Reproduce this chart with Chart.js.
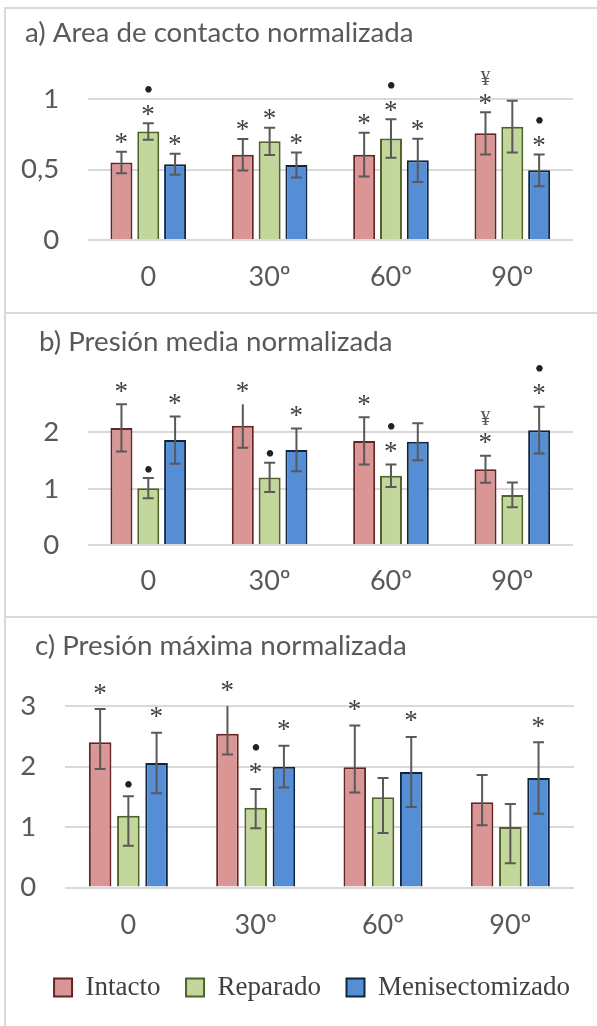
<!DOCTYPE html>
<html>
<head>
<meta charset="utf-8">
<script src="https://cdn.jsdelivr.net/npm/chart.js@4.4.1/dist/chart.umd.min.js"></script>
<style>
  html, body { margin: 0; padding: 0; background: #fff; overflow: hidden; }
  body { width: 597px; height: 1026px; position: relative; }
  .panel { position: absolute; left: 4px; width: 600px; border-top: 2px solid #d9d9d9; border-left: 2px solid #d9d9d9; }
  .panel canvas { display: block; }
</style>
</head>
<body>
<div class="panel" style="top:7px"><canvas id="chartA" width="591" height="303"></canvas></div>
<div class="panel" style="top:312px"><canvas id="chartB" width="591" height="302"></canvas></div>
<div class="panel" style="top:616px"><canvas id="chartC" width="591" height="408"></canvas></div>
<script>
const categories = ['0', '30º', '60º', '90º'];
const seriesNames = ['Intacto', 'Reparado', 'Menisectomizado'];

// a) area de contacto (error simetrico)
const areaIntacto = [0.55, 0.605, 0.605, 0.757];
const areaReparado = [0.77, 0.70, 0.72, 0.804];
const areaMenisect = [0.537, 0.532, 0.565, 0.494];
const areaIntactoErr = [0.076, 0.112, 0.155, 0.15];
const areaReparadoErr = [0.058, 0.097, 0.137, 0.184];
const areaMenisectErr = [0.074, 0.088, 0.153, 0.112];
const areaIntactoMarks = ['*', '*', '*', '*¥'];
const areaReparadoMarks = ['*•', '*', '*•', ''];
const areaMenisectMarks = ['*', '*', '*', '*•'];

// b) presion media
const mediaIntacto = [2.08, 2.12, 1.85, 1.345];
const mediaReparado = [1.01, 1.20, 1.23, 0.89];
const mediaMenisect = [1.865, 1.69, 1.835, 2.04];
const mediaIntactoErr = [0.42, 0.39, 0.42, 0.24];
const mediaReparadoErr = [0.18, 0.26, 0.20, 0.22];
const mediaMenisectErr = [0.42, 0.38, 0.33, 0.415];
const mediaIntactoMarks = ['*', '*', '*', '*¥'];
const mediaReparadoMarks = ['•', '•', '*•', ''];
const mediaMenisectMarks = ['*', '*', '', '*•'];

// c) presion maxima (error asimetrico)
const maxIntacto = [2.40, 2.54, 1.99, 1.41];
const maxReparado = [1.185, 1.32, 1.49, 1.0];
const maxMenisect = [2.06, 1.995, 1.91, 1.81];
const maxIntactoUp = [0.55, 0.55, 0.69, 0.45];
const maxIntactoDown = [0.44, 0.34, 0.42, 0.38];
const maxReparadoUp = [0.325, 0.31, 0.32, 0.38];
const maxReparadoDown = [0.495, 0.34, 0.59, 0.60];
const maxMenisectUp = [0.50, 0.35, 0.58, 0.59];
const maxMenisectDown = [0.50, 0.34, 0.58, 0.59];
const maxIntactoMarks = ['*', '*', '*', ''];
const maxReparadoMarks = ['•', '*•', '', ''];
const maxMenisectMarks = ['*', '*', '*', '*'];

const fills = ['#d99694', '#c3d69b', '#558ed5'];
const borders = ['#632523', '#4f6228', '#10253f'];
const GRID = '#d9d9d9';
const TEXT = '#595959';

Chart.defaults.font.family = 'Lato';

const markFonts = { '*': '27px "Liberation Serif"', '•': '27px "Liberation Serif"', '¥': '20px "Liberation Serif"' };
const markColors = { '*': '#404040', '•': '#222222', '¥': '#595959' };

function drawMark(ctx, ch, cx, cy) {
  ctx.font = markFonts[ch];
  ctx.fillStyle = markColors[ch];
  ctx.textAlign = 'left';
  ctx.textBaseline = 'alphabetic';
  const m = ctx.measureText(ch);
  const x = cx - (m.actualBoundingBoxRight - m.actualBoundingBoxLeft) / 2;
  const y = cy + (m.actualBoundingBoxAscent - m.actualBoundingBoxDescent) / 2;
  ctx.fillText(ch, x, y);
}

// barras de error + simbolos de significancia
const errorBars = {
  id: 'errorBars',
  afterDatasetsDraw(chart, args, opts) {
    const ctx = chart.ctx;
    const yScale = chart.scales.y;
    const area = chart.chartArea;
    ctx.save();
    chart.data.datasets.forEach((ds, i) => {
      chart.getDatasetMeta(i).data.forEach((bar, j) => {
        const v = ds.data[j];
        let yTop = yScale.getPixelForValue(v + ds.errUp[j]);
        const yBot = yScale.getPixelForValue(v - ds.errDown[j]);
        const clipped = yTop < area.top;
        if (clipped) yTop = area.top;
        ctx.strokeStyle = TEXT;
        ctx.lineWidth = 2;
        ctx.beginPath();
        ctx.moveTo(bar.x, yTop);
        ctx.lineTo(bar.x, yBot);
        if (!clipped) {
          ctx.moveTo(bar.x - 5.5, yTop);
          ctx.lineTo(bar.x + 5.5, yTop);
        }
        ctx.moveTo(bar.x - 5.5, yBot);
        ctx.lineTo(bar.x + 5.5, yBot);
        ctx.stroke();

        const chars = Array.from(ds.marks[j] || '');
        let cy = yTop - (chars[0] === '•' ? opts.gap - 8 : opts.gap);
        chars.forEach((ch, k) => {
          if (k > 0) cy -= 21;
          drawMark(ctx, ch, bar.x, cy);
        });
      });
    });
    ctx.restore();
  }
};

// title starts at its own x, legend is nudged right (as in the word figure)
const placeBoxes = {
  id: 'placeBoxes',
  afterLayout(chart, args, opts) {
    if (chart.titleBlock) chart.titleBlock.left = opts.titleX;
    if (opts.legendShift && chart.legend) {
      chart.legend.left += opts.legendShift;
      chart.legend.right += opts.legendShift;
    }
  }
};

function buildDatasets(values, up, down, marks, catPct, barPct) {
  return seriesNames.map((name, i) => ({
    label: name,
    data: values[i],
    errUp: up[i],
    errDown: down[i],
    marks: marks[i],
    backgroundColor: fills[i],
    borderColor: borders[i],
    borderWidth: 2,
    categoryPercentage: catPct,
    barPercentage: barPct
  }));
}

function panel(id, o) {
  return new Chart(document.getElementById(id), {
    type: 'bar',
    data: { labels: categories, datasets: o.datasets },
    options: {
      responsive: false,
      animation: false,
      layout: { padding: { left: 0, right: o.padRight, top: 0, bottom: o.padBottom } },
      plugins: {
        title: {
          display: true,
          text: o.title,
          align: 'start',
          color: TEXT,
          font: { size: 27.7, weight: 'normal' },
          padding: { top: o.titleTop, bottom: o.titleBottom }
        },
        legend: o.legend ? {
          display: true,
          position: 'bottom',
          labels: {
            boxWidth: 18,
            boxHeight: 18,
            padding: 25.5,
            color: '#404040',
            font: { family: 'Liberation Serif', size: 27 }
          }
        } : { display: false },
        tooltip: { enabled: false },
        errorBars: { gap: o.gap },
        placeBoxes: { titleX: o.titleX, legendShift: o.legendShift || 0 }
      },
      scales: {
        x: {
          grid: { display: false, drawTicks: false },
          border: { display: false },
          ticks: { color: TEXT, font: { size: 27 }, padding: o.xPad },
          afterFit: s => { s.height = o.xHeight; }
        },
        y: {
          min: 0,
          max: o.yMax,
          ticks: {
            stepSize: o.step,
            padding: 28.5,
            color: TEXT,
            font: { size: 27.5 },
            callback: v => String(v).replace('.', ',')
          },
          grid: { color: GRID, lineWidth: 2, drawTicks: false },
          border: { display: false },
          afterBuildTicks: s => { s.ticks = s.ticks.filter(t => t.value <= o.yTop); },
          afterFit: s => { s.width = o.yWidth; }
        }
      }
    },
    plugins: [errorBars, placeBoxes]
  });
}

panel('chartA', {
  title: 'a) Area de contacto normalizada',
  datasets: buildDatasets(
    [areaIntacto, areaReparado, areaMenisect],
    [areaIntactoErr, areaReparadoErr, areaMenisectErr],
    [areaIntactoErr, areaReparadoErr, areaMenisectErr],
    [areaIntactoMarks, areaReparadoMarks, areaMenisectMarks], 0.663, 0.82),
  yMax: 1, yTop: 1, step: 0.5, gap: 13,
  titleX: 19, padRight: 24, padBottom: 0,
  titleTop: 7.2, titleBottom: 49.6,
  xHeight: 72, xPad: 20.8, yWidth: 81.6
});

panel('chartB', {
  title: 'b) Presión media normalizada',
  datasets: buildDatasets(
    [mediaIntacto, mediaReparado, mediaMenisect],
    [mediaIntactoErr, mediaReparadoErr, mediaMenisectErr],
    [mediaIntactoErr, mediaReparadoErr, mediaMenisectErr],
    [mediaIntactoMarks, mediaReparadoMarks, mediaMenisectMarks], 0.663, 0.82),
  yMax: 2.5, yTop: 2, step: 1, gap: 17,
  titleX: 33, padRight: 24, padBottom: 0,
  titleTop: 11.1, titleBottom: 46,
  xHeight: 71, xPad: 20.5, yWidth: 81.6
});

panel('chartC', {
  title: 'c) Presión máxima normalizada',
  datasets: buildDatasets(
    [maxIntacto, maxReparado, maxMenisect],
    [maxIntactoUp, maxReparadoUp, maxMenisectUp],
    [maxIntactoDown, maxReparadoDown, maxMenisectDown],
    [maxIntactoMarks, maxReparadoMarks, maxMenisectMarks], 0.665, 0.8),
  yMax: 3, yTop: 3, step: 1, gap: 20,
  titleX: 29, padRight: 23, padBottom: 15, legendShift: 22,
  titleTop: 11.6, titleBottom: 43.2,
  xHeight: 61, xPad: 21.5, yWidth: 58.7,
  legend: true
});
</script>
</body>
</html>
